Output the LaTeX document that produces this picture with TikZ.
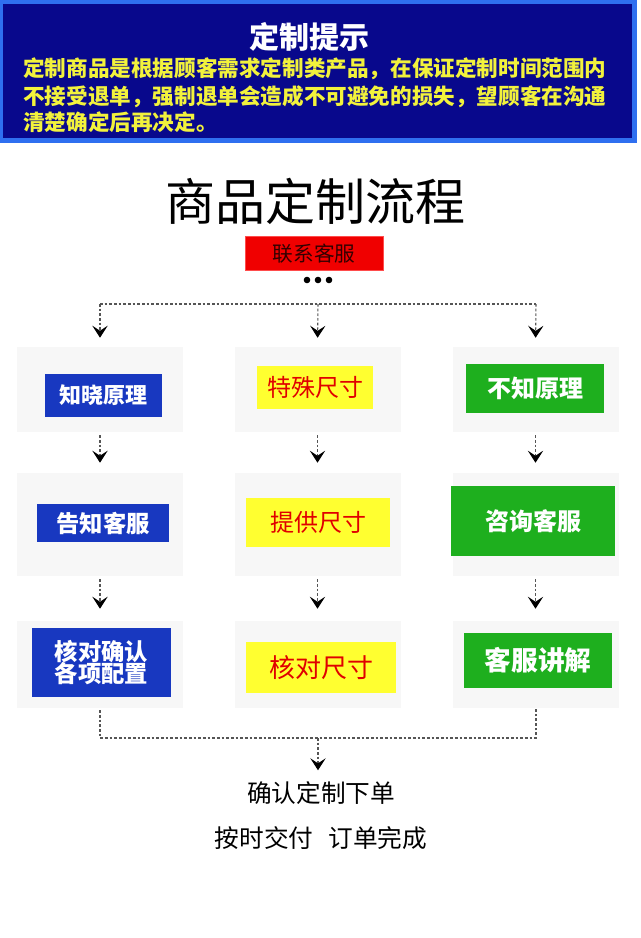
\documentclass[tikz,border=0pt]{standalone}
\usepackage{fontspec}
\newfontfamily\cjk{Noto Sans CJK SC}
\usetikzlibrary{arrows.meta}
\definecolor{bannerlight}{HTML}{2F6FF0}
\definecolor{bannernavy}{HTML}{08088C}
\definecolor{banneryellow}{HTML}{F2F23C}
\definecolor{panelgray}{HTML}{F7F7F7}
\definecolor{boxblue}{HTML}{1838C0}
\definecolor{boxyellow}{HTML}{FFFF30}
\definecolor{boxred}{HTML}{F00000}
\definecolor{boxgreen}{HTML}{1EAF1E}
\definecolor{textred}{HTML}{E00000}
\definecolor{linegray}{HTML}{555555}
\newcommand\fsz[1]{\fontsize{#1}{#1}\selectfont}
\begin{document}
\begin{tikzpicture}[x=0.75pt,y=-0.75pt,
  panel/.style={fill=panelgray, inner sep=0pt, minimum width=166*0.75pt},
  cbox/.style={inner sep=0pt, align=center},
  bluebox/.style={cbox, fill=boxblue, text=white, font=\cjk\bfseries\fsz{16.5}},
  yellowbox/.style={cbox, fill=boxyellow, text=textred, font=\cjk\fsz{18}},
  greenbox/.style={cbox, fill=boxgreen, text=white, font=\cjk\bfseries\fsz{18}},
  flow/.style={draw=linegray, line width=0.8pt, dash pattern=on 2pt off 1.5pt},
  flowarrow/.style={flow, -{Stealth[length=9pt,width=11.5pt,inset=3.8pt,color=black]}},
  plaintext/.style={inner sep=0pt, font=\cjk\fsz{18.5}}
]
\useasboundingbox (0,0) rectangle (640,938);
\fill[white] (0,0) rectangle (640,938);
% banner
\fill[bannerlight] (0,0) rectangle (637,143);
\fill[bannernavy] (3,4) rectangle (632,138);
\node[inner sep=0pt, text=white, font=\cjk\bfseries\fsz{22.5}] (btitle) at (309,37) {定制提示};
\node[inner sep=0pt, anchor=west, text=banneryellow, font=\cjk\bfseries\fsz{16.2}] (bl1) at (23,69) {定制商品是根据顾客需求定制类产品，在保证定制时间范围内};
\node[inner sep=0pt, anchor=west, text=banneryellow, font=\cjk\bfseries\fsz{16.2}] (bl2) at (23,96.5) {不接受退单，强制退单会造成不可避免的损失，望顾客在沟通};
\node[inner sep=0pt, anchor=west, text=banneryellow, font=\cjk\bfseries\fsz{16.2}] (bl3) at (23,122.5) {清楚确定后再决定。};
% title
\node[inner sep=0pt, font=\cjk\fsz{37.5}] (title) at (315,201) {商品定制流程};
% contact
\node[cbox, fill=boxred, draw=red!70!white, line width=0.5pt, minimum width=138*0.75pt, minimum height=34*0.75pt, text=black!80!red, font=\cjk\fsz{15.5}] (contact) at (314,253.5) {联系客服};
\foreach \i/\xx in {1/307,2/318,3/329}
  \fill (\xx,280) circle (3.3) coordinate (dot\i);
% top splitter
\coordinate (sc) at (318,304);
\coordinate (sl) at (100,304);
\coordinate (sr) at (536,304);
% panels
\node[panel, minimum height=85*0.75pt] (p11) at (100,389.5) {};
\node[panel, minimum height=85*0.75pt] (p21) at (317.5,389.5) {};
\node[panel, minimum height=85*0.75pt] (p31) at (535.5,389.5) {};
\node[panel, minimum height=103*0.75pt] (p12) at (100,524.5) {};
\node[panel, minimum height=103*0.75pt] (p22) at (317.5,524.5) {};
\node[panel, minimum height=103*0.75pt] (p32) at (535.5,524.5) {};
\node[panel, minimum height=87*0.75pt] (p13) at (100,664.5) {};
\node[panel, minimum height=87*0.75pt] (p23) at (317.5,664.5) {};
\node[panel, minimum height=87*0.75pt] (p33) at (535.5,664.5) {};
% boxes
\node[bluebox, minimum width=117*0.75pt, minimum height=43*0.75pt] (b11) at (103.5,395.5) {知晓原理};
\node[yellowbox, minimum width=116*0.75pt, minimum height=43*0.75pt] (b21) at (315,387.5) {特殊尺寸};
\node[greenbox, minimum width=138*0.75pt, minimum height=49*0.75pt] (b31) at (535,388.5) {不知原理};
\node[bluebox, minimum width=132*0.75pt, minimum height=38*0.75pt, font=\cjk\bfseries\fsz{17.5}] (b12) at (103,523) {告知客服};
\node[yellowbox, minimum width=144*0.75pt, minimum height=49*0.75pt] (b22) at (318,522.5) {提供尺寸};
\node[greenbox, minimum width=164*0.75pt, minimum height=70*0.75pt] (b32) at (533,521) {咨询客服};
\node[bluebox, minimum width=139*0.75pt, minimum height=69*0.75pt, font=\cjk\bfseries\fsz{17.5}] (b13) at (101.5,662.5) {核对确认\\[-1pt]各项配置};
\node[yellowbox, minimum width=150*0.75pt, minimum height=51*0.75pt, font=\cjk\fsz{19.5}] (b23) at (321,667.5) {核对尺寸};
\node[greenbox, minimum width=148*0.75pt, minimum height=55*0.75pt, font=\cjk\bfseries\fsz{20}] (b33) at (538,660.5) {客服讲解};
% top connectors
\draw[flow] (sl) -- (sr);
\draw[flowarrow, shorten >=9*0.75pt] (sl) -- (p11.north);
\draw[flowarrow, shorten >=9*0.75pt] (sc) -- (p21.north);
\draw[flowarrow, shorten >=9*0.75pt] (sr) -- (p31.north);
% column connectors
\foreach \c in {1,2,3}{
  \draw[flowarrow, shorten <=3*0.75pt, shorten >=10*0.75pt] (p\c1.south) -- (p\c2.north);
  \draw[flowarrow, shorten <=3*0.75pt, shorten >=12*0.75pt] (p\c2.south) -- (p\c3.north);
}
% bottom merge
\coordinate (ml) at (100,738);
\coordinate (mr) at (536,738);
\coordinate (mc) at (318,738);
\node[plaintext] (confirm) at (321,793) {确认定制下单};
\node[plaintext] (deliver) at (321,838) {按时交付\hspace{0.6em}订单完成};
\draw[flow, shorten <=2*0.75pt] (p13.south) -- (ml) -- (mr) -- (p33.south -| mr);
\draw[flowarrow, shorten >=11*0.75pt] (mc) -- (confirm.north -| mc);
\end{tikzpicture}
\end{document}
